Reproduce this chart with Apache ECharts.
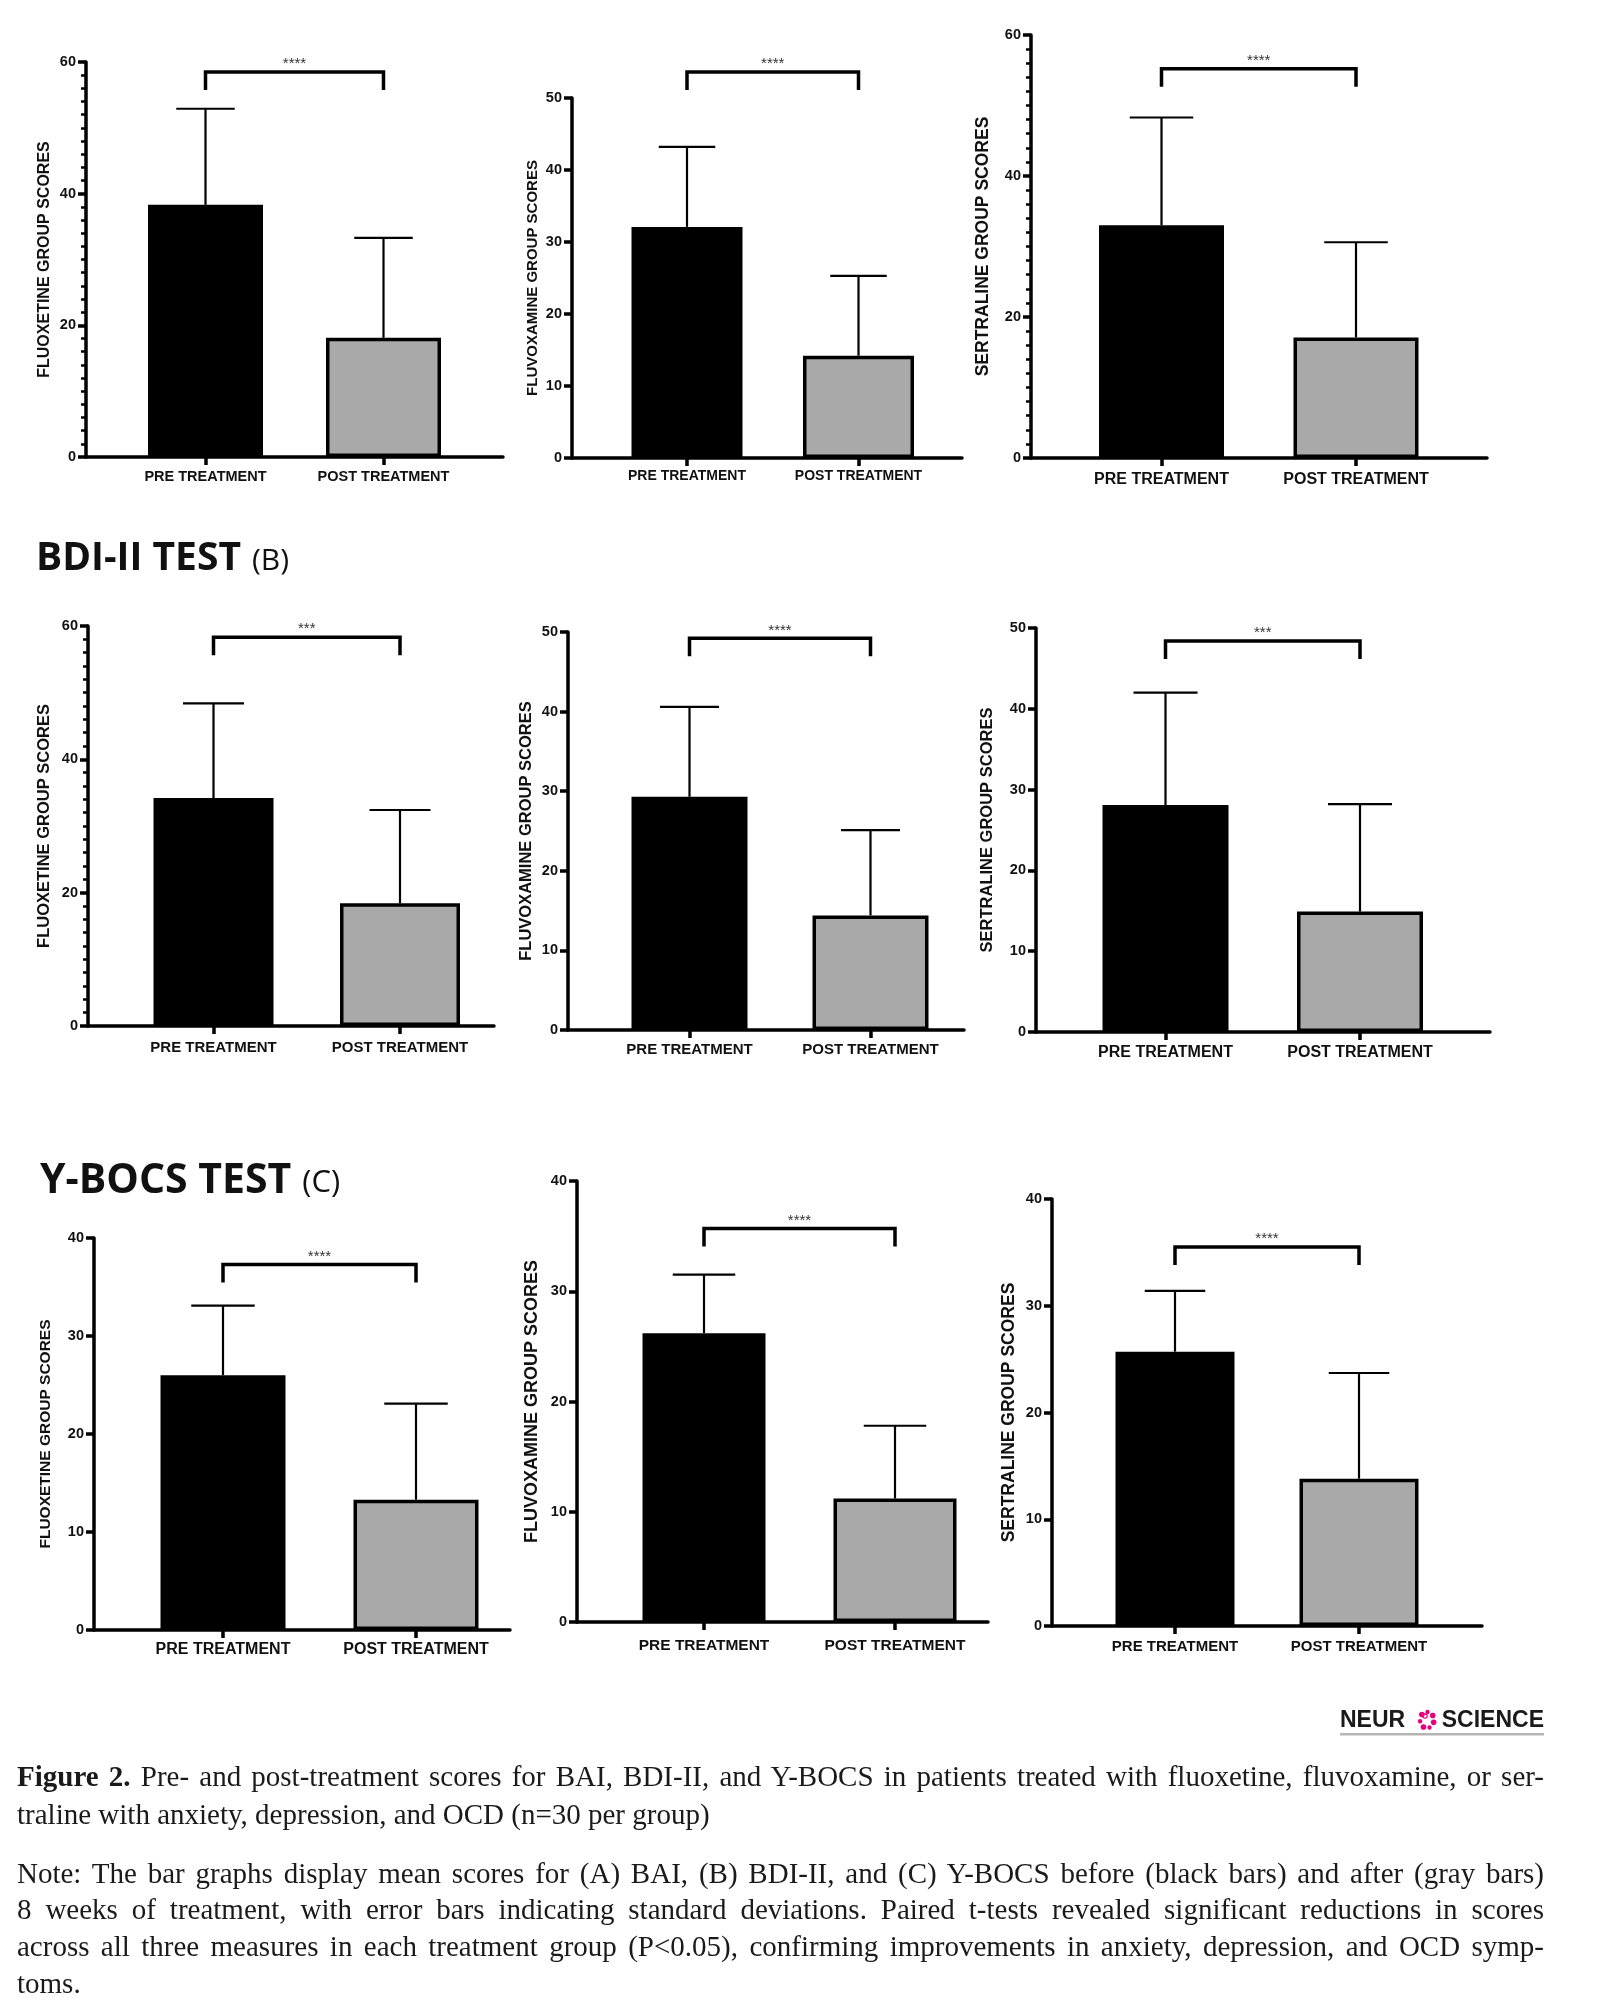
<!DOCTYPE html>
<html>
<head>
<meta charset="utf-8">
<script src="https://cdn.jsdelivr.net/npm/echarts@6/dist/echarts.min.js"></script>
<style>
html,body{margin:0;padding:0;background:#fff;}
#chart{position:absolute;left:0;top:0;width:1606px;height:2000px;}
.cap{position:absolute;left:17px;white-space:nowrap;font-family:'Liberation Serif','Times New Roman',serif;font-size:29px;color:#1a1a1a;line-height:1;}
</style>
</head>
<body>
<div id="chart"></div>
<script>
// ---------------- DATA ----------------
const categories = ['PRE TREATMENT', 'POST TREATMENT'];
const groupTitles = ['FLUOXETINE GROUP SCORES', 'FLUVOXAMINE GROUP SCORES', 'SERTRALINE GROUP SCORES'];

// (A) BAI  — per drug [pre, post]
const baiMean    = [[38.3, 18.1], [32.1, 14.2], [33.0, 17.1]];
const baiSD      = [[14.6, 15.2], [11.1, 11.1], [15.3, 13.5]];
const baiSig     = ['****', '****', '****'];
const baiBracket = [58.5, 53.6, 55.2];
const baiYMax    = [60, 50, 60];
const baiYStep   = [20, 10, 20];

// (B) BDI-II
const bdiMean    = [[34.2, 18.4], [29.3, 14.4], [28.1, 14.9]];
const bdiSD      = [[14.2, 14.0], [11.3, 10.7], [13.9, 13.3]];
const bdiSig     = ['***', '****', '***'];
const bdiBracket = [58.3, 49.2, 48.4];
const bdiYMax    = [60, 50, 50];
const bdiYStep   = [20, 10, 10];

// (C) Y-BOCS
const ybocsMean    = [[26.0, 13.3], [26.2, 11.2], [25.7, 13.8]];
const ybocsSD      = [[7.1, 9.8], [5.3, 6.6], [5.7, 9.9]];
const ybocsSig     = ['****', '****', '****'];
const ybocsBracket = [37.3, 35.7, 35.5];
const ybocsYMax    = [40, 40, 40];
const ybocsYStep   = [10, 10, 10];

const captionLines = [
  {html: '<b>Figure 2.</b> Pre- and post-treatment scores for BAI, BDI-II, and Y-BOCS in patients treated with fluoxetine, fluvoxamine, or ser-', justify: true},
  {html: 'traline with anxiety, depression, and OCD (n=30 per group)', justify: false},
  {html: 'Note: The bar graphs display mean scores for (A) BAI, (B) BDI-II, and (C) Y-BOCS before (black bars) and after (gray bars)', justify: true},
  {html: '8 weeks of treatment, with error bars indicating standard deviations. Paired t-tests revealed significant reductions in scores', justify: true},
  {html: 'across all three measures in each treatment group (P&lt;0.05), confirming improvements in anxiety, depression, and OCD symp-', justify: true},
  {html: 'toms.', justify: false}
];

// ---------------- LAYOUT (positions / styles) ----------------
const layout = [
  {L:86,  R:503,  T:62,   B:457,  c1:205.5,  c2:383.5, bw:117, tf:16,   lf:14.5, ng:33, lm:12},
  {L:572, R:962,  T:98,   B:458,  c1:687,    c2:858.5, bw:113, tf:15,   lf:14,   ng:32, lm:11},
  {L:1031,R:1487, T:35,   B:458,  c1:1161.5, c2:1356,  bw:127, tf:17.5, lf:16,   ng:39, lm:14},
  {L:88,  R:494,  T:626,  B:1026, c1:213.5,  c2:400,   bw:122, tf:16.5, lf:15,   ng:35, lm:14},
  {L:568, R:964,  T:632,  B:1030, c1:689.5,  c2:870.5, bw:118, tf:16.5, lf:15,   ng:33, lm:12},
  {L:1036,R:1490, T:628,  B:1032, c1:1165.5, c2:1360,  bw:128, tf:16.5, lf:16,   ng:40, lm:13},
  {L:94,  R:510,  T:1238, B:1630, c1:223,    c2:416,   bw:127, tf:15.5, lf:16,   ng:40, lm:12},
  {L:577, R:988,  T:1181, B:1622, c1:704,    c2:895,   bw:125, tf:18,   lf:15.5, ng:36, lm:16},
  {L:1052,R:1482, T:1199, B:1626, c1:1175,   c2:1359,  bw:121, tf:17.5, lf:15,   ng:34, lm:13}
];
const SANS = '"Liberation Sans", Arial, sans-serif';
const TITLE_FONT = '"Open Sans", sans-serif';
const INK = '#111';

const tests = [
  {mean: baiMean,   sd: baiSD,   sig: baiSig,   br: baiBracket,   ymax: baiYMax,   step: baiYStep},
  {mean: bdiMean,   sd: bdiSD,   sig: bdiSig,   br: bdiBracket,   ymax: bdiYMax,   step: bdiYStep},
  {mean: ybocsMean, sd: ybocsSD, sig: ybocsSig, br: ybocsBracket, ymax: ybocsYMax, step: ybocsYStep}
];

function errRender(bw) {
  return function (params, api) {
    const x = api.value(0), m = api.value(1), s = api.value(2);
    const p0 = api.coord([x, m]), p1 = api.coord([x, m + s]);
    const h = bw / 4;
    return {type: 'group', children: [
      {type: 'line', shape: {x1: p0[0], y1: p0[1], x2: p0[0], y2: p1[1]}, style: {stroke: '#000', lineWidth: 2.2}},
      {type: 'line', shape: {x1: p0[0] - h, y1: p1[1], x2: p0[0] + h, y2: p1[1]}, style: {stroke: '#000', lineWidth: 2.2}}
    ]};
  };
}
function bracketRender(stars) {
  return function (params, api) {
    const lv = api.value(1);
    const a = api.coord([0, lv]), b = api.coord([1, lv]);
    const d = 18;
    return {type: 'group', children: [
      {type: 'polyline', shape: {points: [[a[0], a[1] + d], [a[0], a[1]], [b[0], b[1]], [b[0], b[1] + d]]},
       style: {stroke: '#000', lineWidth: 3.5, fill: null, lineJoin: 'miter'}},
      {type: 'text', x: (a[0] + b[0]) / 2, y: a[1] - 8,
       style: {text: stars, fill: '#333', fontSize: 15, fontFamily: SANS, align: 'center', verticalAlign: 'middle'}}
    ]};
  };
}

const grid = [], xAxis = [], yAxis = [], series = [];
tests.forEach((t, r) => {
  groupTitles.forEach((title, c) => {
    const i = r * 3 + c, g = layout[i];
    const kf = 2 * i, kb = 2 * i + 1;
    const span = g.c2 - g.c1;
    grid.push({left: g.L, top: g.T, width: g.R - g.L, height: g.B - g.T, containLabel: false, outerBoundsMode: 'none'});
    grid.push({left: g.c1 - span / 2, top: g.T, width: 2 * span, height: g.B - g.T, containLabel: false, outerBoundsMode: 'none'});
    // frame axes
    xAxis.push({gridIndex: kf, type: 'category', data: [''],
      axisLine: {show: true, lineStyle: {color: '#000', width: 3.5}},
      axisTick: {show: false}, axisLabel: {show: false}, splitLine: {show: false}});
    yAxis.push({gridIndex: kf, type: 'value', min: 0, max: t.ymax[c], interval: t.step[c],
      axisLine: {show: true, lineStyle: {color: '#000', width: 3.5}},
      axisTick: {show: true, length: 8, lineStyle: {color: '#000', width: 3.5}},
      minorTick: {show: t.step[c] === 20, splitNumber: 10, length: 5, lineStyle: {color: '#000', width: 2.5}},
      splitLine: {show: false}, minorSplitLine: {show: false},
      axisLabel: {color: INK, fontWeight: 'bold', fontSize: 14.5, fontFamily: SANS, margin: 10},
      name: title, nameLocation: 'middle', nameGap: g.ng, nameMoveOverlap: false,
      nameTextStyle: {color: INK, fontWeight: 'bold', fontSize: g.tf, fontFamily: SANS}});
    // bar axes
    xAxis.push({gridIndex: kb, type: 'category', data: categories,
      axisLine: {show: false},
      axisTick: {show: true, alignWithLabel: true, length: 8, lineStyle: {color: '#000', width: 3.5}},
      axisLabel: {interval: 0, color: INK, fontWeight: 'bold', fontSize: g.lf, fontFamily: SANS, margin: g.lm},
      splitLine: {show: false}});
    yAxis.push({gridIndex: kb, type: 'value', min: 0, max: t.ymax[c], show: false});
    series.push({type: 'bar', xAxisIndex: kb, yAxisIndex: kb, barWidth: g.bw - 2, silent: true, z: 2,
      data: categories.map((_, j) => ({value: t.mean[c][j],
        itemStyle: j === 0 ? {color: '#000', borderWidth: 0} : {color: '#a9a9a9', borderColor: '#000', borderWidth: 3.5}}))});
    series.push({type: 'custom', xAxisIndex: kb, yAxisIndex: kb, silent: true, z: 3,
      renderItem: errRender(g.bw),
      data: categories.map((_, j) => [j, t.mean[c][j], t.sd[c][j]])});
    series.push({type: 'custom', xAxisIndex: kb, yAxisIndex: kb, silent: true, z: 3, clip: false,
      renderItem: bracketRender(t.sig[c]),
      data: [[0, t.br[c]]]});
  });
});

// measure title widths so the letter in parentheses sits right after
const mctx = document.createElement('canvas').getContext('2d');
function textW(font, s) { mctx.font = font; return mctx.measureText(s).width; }
const bdiW = textW('bold 39px ' + TITLE_FONT, 'BDI-II TEST');
const ybW = textW('bold 41px ' + TITLE_FONT, 'Y-BOCS TEST');

// logo icon dots
const logoDots = [];
for (let k = 0; k < 7; k++) {
  const a = k / 7 * Math.PI * 2 + 0.3;
  logoDots.push({type: 'circle', shape: {cx: 1427 + Math.cos(a) * 7, cy: 1720 + Math.sin(a) * 8, r: k % 2 ? 2.2 : 2.8},
    style: {fill: '#e6007e'}, silent: true});
}
logoDots.push({type: 'circle', shape: {cx: 1425, cy: 1716, r: 2.2}, style: {fill: 'none', stroke: '#e6007e', lineWidth: 1.2}});

const graphic = [
  {type: 'text', x: 36, y: 559, style: {text: 'BDI-II TEST', fontSize: 39, fontWeight: 'bold', fontFamily: TITLE_FONT, fill: '#111', verticalAlign: 'middle'}},
  {type: 'text', x: 36 + bdiW + 11, y: 561, style: {text: '(B)', fontSize: 30, fontFamily: TITLE_FONT, fill: '#111', verticalAlign: 'middle'}},
  {type: 'text', x: 40, y: 1181, style: {text: 'Y-BOCS TEST', fontSize: 41, fontWeight: 'bold', fontFamily: TITLE_FONT, fill: '#111', verticalAlign: 'middle'}},
  {type: 'text', x: 40 + ybW + 11, y: 1183, style: {text: '(C)', fontSize: 31, fontFamily: TITLE_FONT, fill: '#111', verticalAlign: 'middle'}},
  {type: 'text', x: 1340, y: 1721, style: {text: 'NEUR', fontSize: 23, fontWeight: 'bold', fontFamily: SANS, fill: '#1a1a1a', verticalAlign: 'middle'}},
  {type: 'text', x: 1544, y: 1721, style: {text: 'SCIENCE', fontSize: 23, fontWeight: 'bold', fontFamily: SANS, fill: '#1a1a1a', align: 'right', verticalAlign: 'middle'}},
  {type: 'rect', shape: {x: 1340, y: 1733, width: 204, height: 2.5}, style: {fill: '#b5b5b5'}}
].concat(logoDots);

const chart = echarts.init(document.getElementById('chart'), null, {renderer: 'canvas'});
chart.setOption({
  animation: false,
  backgroundColor: '#fff',
  grid: grid, xAxis: xAxis, yAxis: yAxis, series: series, graphic: graphic
});

// caption (justified lines)
const capTops = [1778, 1816, 1875, 1911, 1948, 1985];
const capLeft = 17, capRight = 1544;
captionLines.forEach((l, i) => {
  const d = document.createElement('div');
  d.className = 'cap';
  d.innerHTML = l.html;
  d.style.top = (capTops[i] - 16) + 'px';
  document.body.appendChild(d);
  if (l.justify) {
    const w = d.getBoundingClientRect().width;
    const n = (d.textContent.match(/ /g) || []).length;
    d.style.wordSpacing = ((capRight - capLeft - w) / n) + 'px';
  }
});
</script>
</body>
</html>
